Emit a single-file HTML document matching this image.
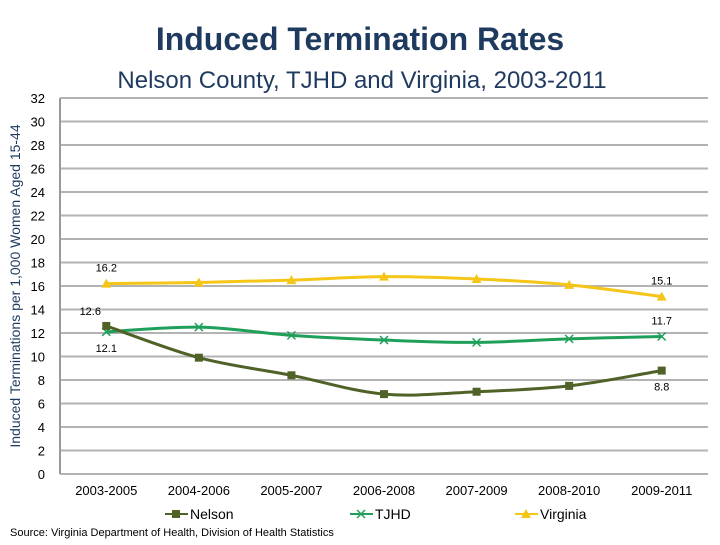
<!DOCTYPE html>
<html><head><meta charset="utf-8"><style>
body{margin:0;background:#fff;font-family:"Liberation Sans",sans-serif}
svg text{font-family:"Liberation Sans",sans-serif}
</style></head><body>
<svg id="c" width="720" height="540" viewBox="0 0 720 540">
<text x="360" y="50" text-anchor="middle" font-size="32" font-weight="bold" fill="#1f3a5f">Induced Termination Rates</text>
<text x="362" y="88" text-anchor="middle" font-size="24" fill="#1f3a5f">Nelson County, TJHD and Virginia, 2003-2011</text>
<text transform="translate(20,286) rotate(-90)" text-anchor="middle" font-size="14" fill="#1f3a5f">Induced Terminations per 1,000 Women Aged 15-44</text>
<g id="grid"></g><g id="series"></g><g id="labels"></g>
<text x="10" y="536" font-size="11" fill="#000">Source: Virginia Department of Health, Division of Health Statistics</text>
</svg>
<script>
const categories=["2003-2005","2004-2006","2005-2007","2006-2008","2007-2009","2008-2010","2009-2011"];
const nelson=[12.6,9.9,8.4,6.8,7.0,7.5,8.8];
const tjhd=[12.1,12.5,11.8,11.4,11.2,11.5,11.7];
const virginia=[16.2,16.3,16.5,16.8,16.6,16.1,15.1];
const yTicks=[0,2,4,6,8,10,12,14,16,18,20,22,24,26,28,30,32];
const NS="http://www.w3.org/2000/svg";
const L=60,R=708,T=98,B=474;
const bw=(R-L)/categories.length;
const x=i=>L+bw*(i+0.5);
const y=v=>B-(v/32)*(B-T);
function mk(t,a,p){const e=document.createElementNS(NS,t);for(const k in a)e.setAttribute(k,a[k]);(p||document.getElementById('c')).appendChild(e);return e;}
const g=document.getElementById('grid'),s=document.getElementById('series'),lb=document.getElementById('labels');
yTicks.forEach(v=>{
 const ln=mk('line',{x1:L,x2:R,y1:y(v),y2:y(v),stroke:'#b3b3b3','stroke-width':2},g);
 
 
 const t=mk('text',{x:45,y:y(v)+5,'text-anchor':'end','font-size':13,fill:'#000'},g);t.textContent=v;
 
 
});
const ax=mk('line',{x1:L,x2:L,y1:T,y2:B,stroke:'#999','stroke-width':2},g);


categories.forEach((c,i)=>{
 const t=mk('text',{x:x(i),y:495,'text-anchor':'middle','font-size':13,fill:'#000'},g);t.textContent=c;
 
 
});
function path(vals){
 const p=vals.map((v,i)=>[x(i),y(v)]);let d=`M${p[0][0]},${p[0][1]}`;
 for(let i=0;i<p.length-1;i++){const p0=p[i-1]||p[i],p1=p[i],p2=p[i+1],p3=p[i+2]||p2;
  d+=` C${p1[0]+(p2[0]-p0[0])/6},${p1[1]+(p2[1]-p0[1])/6} ${p2[0]-(p3[0]-p1[0])/6},${p2[1]-(p3[1]-p1[1])/6} ${p2[0]},${p2[1]}`;}
 return d;
}
function marker(type,cx,cy,col,par){
 if(type==='sq')return mk('rect',{x:cx-4,y:cy-4,width:8,height:8,fill:col},par);
 if(type==='tri')return mk('polygon',{points:`${cx},${cy-5} ${cx+5},${cy+4} ${cx-5},${cy+4}`,fill:col},par);
 return mk('path',{d:`M${cx-4},${cy-4}L${cx+4},${cy+4}M${cx-4},${cy+4}L${cx+4},${cy-4}`,stroke:col,'stroke-width':1.5},par);
}
const S=[{n:'virginia',v:virginia,c:'#f5c518',m:'tri',lab:'Virginia'},{n:'tjhd',v:tjhd,c:'#1fa05a',m:'x',lab:'TJHD'},{n:'nelson',v:nelson,c:'#4f6228',m:'sq',lab:'Nelson'}];
S.forEach(o=>{
 const p=mk('path',{d:path(o.v),fill:'none',stroke:o.c,'stroke-width':3},s);
 
 
 o.v.forEach((v,i)=>{const m=marker(o.m,x(i),y(v),o.c,s);
  
  });
});
function dl(txt,xx,yy){const t=mk('text',{x:xx,y:yy,'text-anchor':'middle','font-size':11,fill:'#000'},lb);t.textContent=txt;
 
 }
dl(virginia[0],x(0),y(virginia[0])-12);
dl(virginia[6],x(6),y(virginia[6])-12);
dl(nelson[0],x(0)-16,y(nelson[0])-11);
dl(tjhd[0],x(0),y(tjhd[0])+20);
dl(tjhd[6],x(6),y(tjhd[6])-12);
dl(nelson[6],x(6),y(nelson[6])+20);
const legX=[165,350,515];
S.slice().reverse().forEach((o,i)=>{
 const lx=legX[i];
 const l=mk('line',{x1:lx,x2:lx+23,y1:514,y2:514,stroke:o.c,'stroke-width':2},lb);
 
 
 marker(o.m,lx+11,514,o.c,lb);
 const t=mk('text',{x:lx+25,y:519,'font-size':14,fill:'#000'},lb);t.textContent=o.lab;
 
 
});
</script>
</body></html>
